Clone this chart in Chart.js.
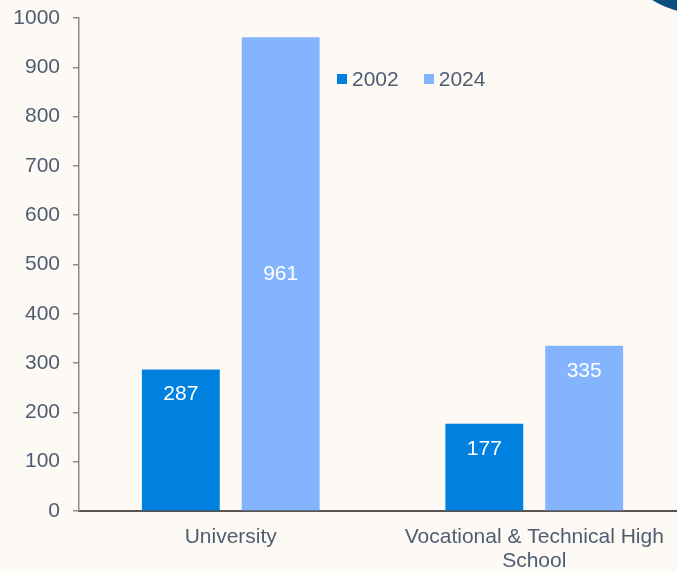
<!DOCTYPE html>
<html>
<head>
<meta charset="utf-8">
<script src="https://cdn.jsdelivr.net/npm/chart.js@4.4.1/dist/chart.umd.min.js"></script>
<style>
  html, body { margin:0; padding:0; background:#fdfaf6; overflow:hidden; width:677px; height:572px; }
  #wrap { position:absolute; left:0; top:0; width:686px; height:572px; }
  #deco { position:absolute; left:606px; top:-178px; width:192px; height:192px; border-radius:50%; background:#0b4f7f; }
  #legend { position:absolute; left:337px; top:67px; font-family:"Liberation Sans", Arial, sans-serif; font-size:21px; color:#4f5d70; display:flex; align-items:center; }
  #legend .item { display:flex; align-items:center; margin-right:25px; }
  #legend .box { width:10px; height:10px; margin-right:5px; }
</style>
</head>
<body>
<div id="wrap"><canvas id="c"></canvas></div>
<div id="deco"></div>
<div id="legend"></div>
<script>
const categories = ['University', ['Vocational & Technical High', 'School']];
const seriesNames = ['2002', '2024'];
const values2002 = [287, 177];
const values2024 = [961, 335];
const yTicks = [0, 100, 200, 300, 400, 500, 600, 700, 800, 900, 1000];
const colors = ['#0081df', '#85b4ff'];

const legendEl = document.getElementById('legend');
seriesNames.forEach((n, i) => {
  const it = document.createElement('div'); it.className = 'item';
  const b = document.createElement('div'); b.className = 'box'; b.style.background = colors[i];
  const t = document.createElement('span'); t.textContent = n;
  it.appendChild(b); it.appendChild(t); legendEl.appendChild(it);
});

const labelPlugin = {
  id: 'barLabels',
  afterDatasetsDraw(chart) {
    const ctx = chart.ctx;
    ctx.save();
    ctx.fillStyle = '#ffffff';
    ctx.font = '21px "Liberation Sans", Arial, sans-serif';
    ctx.textAlign = 'center';
    ctx.textBaseline = 'middle';
    chart.data.datasets.forEach((ds, di) => {
      chart.getDatasetMeta(di).data.forEach((bar, i) => {
        const h = bar.base - bar.y;
        const y = h > 300 ? (bar.y + bar.base) / 2 : bar.y + 25;
        ctx.fillText(String(ds.data[i]), bar.x, y);
      });
    });
    ctx.restore();
  }
};

Chart.defaults.font.family = '"Liberation Sans", Arial, sans-serif';
Chart.defaults.font.size = 21;
Chart.defaults.color = '#4f5d70';

new Chart(document.getElementById('c'), {
  type: 'bar',
  data: {
    labels: categories,
    datasets: [
      { label: seriesNames[0], data: values2002, backgroundColor: colors[0] },
      { label: seriesNames[1], data: values2024, backgroundColor: colors[1] }
    ]
  },
  options: {
    responsive: true,
    maintainAspectRatio: false,
    animation: false,
    devicePixelRatio: 1,
    categoryPercentage: 0.658,
    barPercentage: 0.78,
    layout: { padding: { top: 18, left: 0, right: 0, bottom: 0 } },
    plugins: { legend: { display: false }, tooltip: { enabled: false } },
    scales: {
      x: {
        grid: { display: false, drawTicks: false },
        border: { display: true, color: '#555555', width: 2 },
        ticks: { padding: 14, font: { size: 21, lineHeight: 1.15 }, maxRotation: 0, autoSkip: false },
        afterFit(scale) { scale.height = 61; scale.paddingLeft = 0; scale.paddingRight = 0; }
      },
      y: {
        min: 0, max: 1000,
        afterBuildTicks(scale) { scale.ticks = yTicks.map(v => ({ value: v })); },
        grid: { drawOnChartArea: false, drawTicks: true, tickLength: 6, color: '#8c8c8c', lineWidth: 1.5 },
        border: { display: true, color: '#8c8c8c', width: 1.5 },
        ticks: { padding: 13, font: { size: 21, lineHeight: 1.0 }, callback: (v) => String(v) },
        afterFit(scale) { scale.width = 79; scale.paddingTop = 0; scale.paddingBottom = 0; }
      }
    }
  },
  plugins: [labelPlugin]
});
</script>
</body>
</html>
